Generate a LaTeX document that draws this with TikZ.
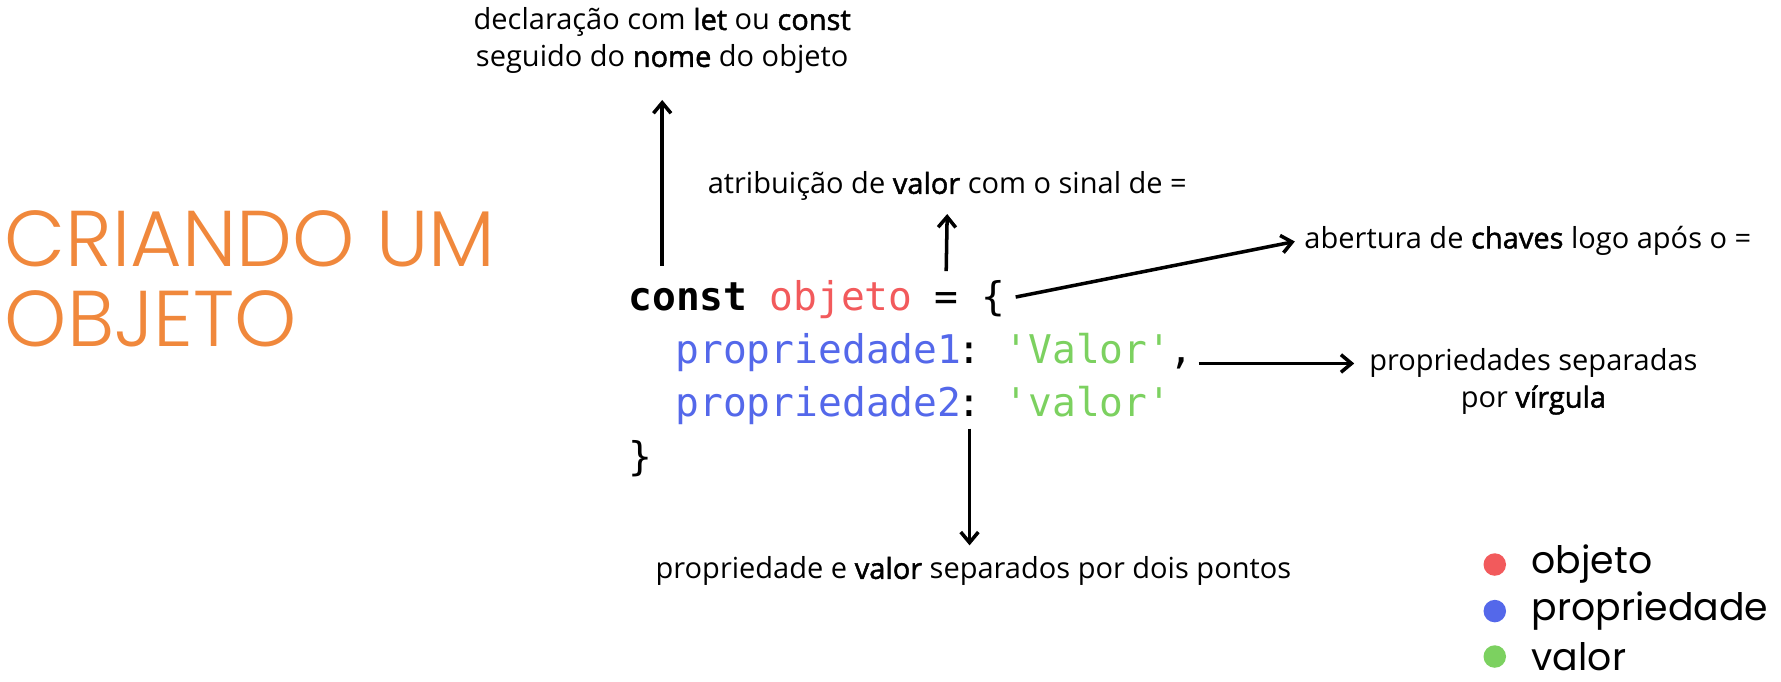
\documentclass[tikz,border=0pt]{standalone}
\usepackage{fontspec}
\usepackage{xcolor}
\setmainfont{Open Sans}[BoldFont=*, BoldFeatures={FakeBold=1.6}]
\setmonofont{DejaVu Sans Mono}
\newfontfamily\titlefont{Poppins Light}
\newfontfamily\legendfont{Poppins}
\usetikzlibrary{arrows.meta, positioning}
\definecolor{titleorange}{HTML}{F0883C}
\definecolor{objred}{HTML}{F25A5C}
\definecolor{propblue}{HTML}{5468EA}
\definecolor{valgreen}{HTML}{7CD160}
\newcommand{\notefont}{\fontsize{16.5pt}{21pt}\selectfont}
\newcommand{\codecol}[1]{553 + #1*20.7}
\tikzset{
	title/.style={anchor=base west, inner sep=0, text=titleorange,
		font=\titlefont\fontsize{45pt}{54pt}\selectfont},
	token/.style={anchor=base west, inner sep=0, text height=17pt, text depth=4.5pt,
		font=\ttfamily\fontsize{22.5pt}{27pt}\selectfont},
	note/.style={align=center, font=\notefont},
	pointer/.style={line width=2pt, -{Straight Barb[length=6pt, width=10pt, line width=2pt]}},
	dot/.style={circle, minimum size=0.45cm, inner sep=0},
	legend/.style={inner sep=0, font=\legendfont\fontsize{21.5pt}{26pt}\selectfont}
}
\begin{document}
\begin{tikzpicture}[x=0.0227cm, y=-0.0227cm]
		\useasboundingbox (0,0) rectangle (1568,600.4);

		% title
		\node[title] (t1) at (4,235) {CRIANDO UM};
		\node[title] (t2) at (4,305) {OBJETO};

		% code
		\node[token, font=\ttfamily\bfseries\fontsize{22.5pt}{27pt}\selectfont] (kw) at ({\codecol{0}},273) {const};
		\node[token, text=objred] (obj) at ({\codecol{6}},273) {objeto};
		\node[token] (eq) at ({\codecol{13}},273) {=};
		\node[token] (brace) at ({\codecol{15}},273) {\{};

		\node[token, text=propblue] (p1) at ({\codecol{2}},320) {propriedade1};
		\node[token] (colon1) at ({\codecol{14}},320) {:};
		\node[token, text=valgreen] (v1) at ({\codecol{16}},320) {'Valor'};
		\node[token] (comma) at ({\codecol{23}},320) {,};

		\node[token, text=propblue] (p2) at ({\codecol{2}},367) {propriedade2};
		\node[token] (colon2) at ({\codecol{14}},367) {:};
		\node[token, text=valgreen] (v2) at ({\codecol{16}},367) {'valor'};

		\node[token] (close) at ({\codecol{0}},414) {\}};

		% annotations
		\node[note] (decl) at (583,36) {declaração com \textbf{let} ou \textbf{const}\\seguido do \textbf{nome} do objeto};
		\node[note] (attrib) at (834,164) {atribuição de \textbf{valor} com o sinal de =};
		\node[note, anchor=west] (chaves) at (1143,212) {abertura de \textbf{chaves} logo após o =};
		\node[note] (virgula) at (1350,336) {propriedades separadas\\por \textbf{vírgula}};
		\node[note] (pontos) at (857,503) {propriedade e \textbf{valor} separados por dois pontos};

		% arrows
		\draw[pointer, shorten <=8pt] (decl.south |- kw.north) -- (decl.south |- 0,88);
		\draw[pointer, shorten <=5pt, shorten >=4pt] (eq.north) -- (attrib.south);
		\draw[pointer, shorten <=6pt, shorten >=2pt] (brace.east) -- (chaves.west);
		\draw[pointer, shorten <=3pt, shorten >=5pt] (comma.base east) -- (comma.base east -| virgula.west);
		\draw[pointer, shorten <=2pt, shorten >=3pt] (colon2.south) -- (colon2.south |- pontos.north);

		% legend
		\node[dot, fill=objred] (dobj) at (1316,497) {};
		\node[dot, fill=propblue] (dprop) at (1316,538) {};
		\node[dot, fill=valgreen] (dval) at (1316,578) {};
		\node[legend, right=0.5cm of dobj] (lobj) {objeto};
		\node[legend, right=0.5cm of dprop] (lprop) {propriedade};
		\node[legend, right=0.5cm of dval] (lval) {valor};
	\end{tikzpicture}
\end{document}
